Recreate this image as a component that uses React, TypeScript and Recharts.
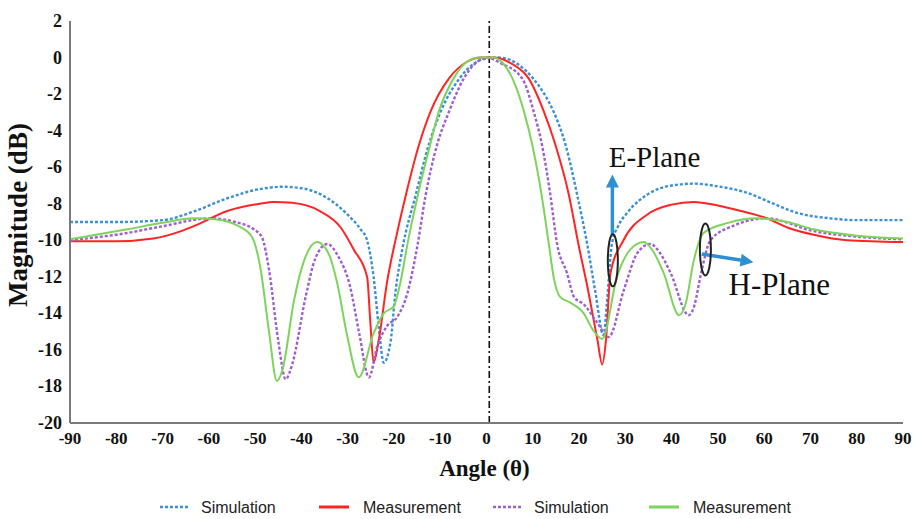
import React from "react";
import { LineChart, Line, XAxis, YAxis, ReferenceLine } from "recharts";

// ---------- data ----------
const xTicks = [-90, -80, -70, -60, -50, -40, -30, -20, -10, 0, 10, 20, 30, 40, 50, 60, 70, 80, 90];
const yTicks = [-20, -18, -16, -14, -12, -10, -8, -6, -4, -2, 0, 2];

// E-plane simulation (blue dotted)
const eSimAngle = [-90, -80, -70, -63, -56, -49, -44, -40, -35, -30, -27.2, -25.8, -24.4, -23.3, -22.2, -20.7, -19.7, -18.2, -15.3, -12.5, -9.9, -6, -2.5, 0, 2.5, 5, 7.5, 10, 12.5, 14.5, 17.1, 19.6, 21.8, 23.5, 25.3, 26, 27.1, 28.5, 30.4, 35.4, 40, 45, 50, 56.3, 62, 67.1, 74.3, 80, 90];
const eSimMag = [-9.0, -9.0, -8.9, -8.4, -7.7, -7.2, -7.07, -7.15, -7.6, -8.6, -9.4, -10.0, -12.0, -14.7, -16.7, -15.5, -12.9, -10.5, -7.52, -4.79, -2.96, -1.2, -0.3, -0.05, 0, -0.12, -0.5, -1.12, -2.0, -2.96, -4.79, -7.52, -10.26, -12.8, -15.2, -13.5, -10.2, -9.2, -8.5, -7.4, -7.0, -6.9, -7.05, -7.4, -8.0, -8.5, -8.8, -8.9, -8.9];

// E-plane measurement (red solid)
const eMeasAngle = [-90, -80, -72, -66, -63, -56, -49, -46, -42, -36, -31.5, -28.7, -25.8, -25.1, -24.4, -23.3, -21.5, -19.5, -17.5, -14.6, -12.1, -8.1, -4.2, -1, 1.5, 5.5, 9.1, 12.4, 14.9, 17.8, 19.9, 22, 24, 25, 25.8, 26.8, 29.6, 34.7, 40, 44.8, 50, 55, 60.6, 65, 70.7, 77.9, 90];
const eMeasMag = [-10.05, -10.05, -9.9, -9.5, -9.2, -8.4, -8.0, -7.9, -7.95, -8.4, -9.3, -10.5, -12.0, -14.5, -16.7, -15.5, -12.3, -9.8, -7.6, -4.79, -2.96, -1.14, -0.23, 0, 0, -0.35, -1.14, -2.96, -4.79, -7.52, -10.26, -12.8, -15.5, -16.8, -15.5, -11.8, -10.0, -8.6, -8.05, -7.9, -8.1, -8.4, -8.8, -9.3, -9.7, -10.0, -10.1];

// H-plane simulation (purple dotted)
const hSimAngle = [-90, -77.6, -70.4, -59.6, -54.6, -50.3, -48.5, -47, -45, -43.4, -42, -39, -37, -34.4, -32, -29.5, -27.5, -25.4, -23.6, -21.5, -19.3, -17.1, -15, -13.2, -10.7, -8.1, -4.9, -2, 0.1, 3, 7.7, 10.2, 12, 13.8, 15.3, 17.4, 18.9, 21, 23.9, 26.4, 29.7, 32.6, 35.4, 37.5, 39.8, 43.7, 45, 46.2, 48.4, 53.4, 60.6, 70.7, 80, 90];
const hSimMag = [-10.0, -9.6, -9.25, -8.8, -8.98, -9.4, -9.85, -11.6, -15.5, -17.6, -16.8, -13.0, -11.0, -10.2, -10.9, -12.5, -15.1, -17.5, -15.8, -14.7, -14.2, -12.9, -10.4, -7.6, -4.79, -2.96, -1.14, -0.23, 0, -0.3, -1.14, -2.96, -4.79, -7.52, -10.26, -11.8, -13.1, -13.5, -14.5, -15.3, -12.7, -10.7, -10.2, -10.7, -11.8, -14.1, -13.5, -12.0, -10.0, -9.2, -8.8, -9.5, -9.8, -9.95];

// H-plane measurement (green solid)
const hMeasAngle = [-90, -77.6, -70.4, -63.2, -58.8, -53, -50.6, -48.8, -47, -45.3, -44, -41.6, -39.4, -36.6, -34, -32.3, -30.2, -27.6, -24.4, -22.2, -20, -18.6, -17, -14.9, -12.2, -10.3, -7.1, -4.2, -1.5, 1.5, 3.5, 5.6, 8.1, 9.9, 11.9, 13.5, 14.5, 15.9, 18, 21, 23, 25, 28.2, 31.1, 34, 36, 38.3, 41.6, 43, 44.8, 46.9, 52, 58.5, 65, 70.7, 80, 90];
const hMeasMag = [-9.95, -9.4, -9.06, -8.8, -8.85, -9.3, -9.85, -11.6, -15.0, -17.7, -17.0, -13.3, -11.1, -10.1, -10.8, -12.3, -15.1, -17.5, -15.1, -14.0, -13.6, -12.3, -10.1, -7.6, -4.79, -2.96, -1.14, -0.23, 0, 0, -0.3, -1.14, -2.96, -4.79, -7.52, -10.26, -12.0, -13.1, -13.4, -14.0, -14.9, -15.4, -12.0, -10.5, -10.1, -10.6, -11.8, -14.1, -13.5, -11.1, -9.6, -9.06, -8.8, -9.0, -9.4, -9.75, -9.9];

const seriesNames = ["Simulation", "Measurement", "Simulation", "Measurement"];
const seriesColors = ["#3b8fd6", "#ff2424", "#9d5fcf", "#7dd35c"];
const seriesDotted = [true, false, true, false];

const zip = (a: number[], m: number[]) => a.map((x, i) => ({ x, y: m[i] }));
const eSimData = zip(eSimAngle, eSimMag);
const eMeasData = zip(eMeasAngle, eMeasMag);
const hSimData = zip(hSimAngle, hSimMag);
const hMeasData = zip(hMeasAngle, hMeasMag);
const allData = [eSimData, eMeasData, hSimData, hMeasData];

// ---------- layout ----------
const W = 913;
const H = 519;
const PLOT = { left: 70, right: 903, top: 21, bottom: 423 };
const xPx = (a: number) => PLOT.left + ((a + 90) / 180) * (PLOT.right - PLOT.left);
const yPx = (v: number) => PLOT.top + ((2 - v) / 22) * (PLOT.bottom - PLOT.top);

const SERIF = "'Liberation Serif', 'Times New Roman', serif";
const SANS = "'Liberation Sans', Arial, sans-serif";
const AXIS_GRAY = "#7a7a7a";
const ARROW_BLUE = "#2f8fd5";

function Arrow({ x1, y1, x2, y2 }: { x1: number; y1: number; x2: number; y2: number }) {
  const dx = x2 - x1;
  const dy = y2 - y1;
  const len = Math.sqrt(dx * dx + dy * dy);
  const ux = dx / len;
  const uy = dy / len;
  const head = 13;
  const half = 6.5;
  const bx = x2 - ux * head;
  const by = y2 - uy * head;
  const pts = `${x2},${y2} ${bx - uy * half},${by + ux * half} ${bx + uy * half},${by - ux * half}`;
  return (
    <g>
      <line x1={x1} y1={y1} x2={bx + ux} y2={by + uy} stroke={ARROW_BLUE} strokeWidth={3.5} />
      <polygon points={pts} fill={ARROW_BLUE} />
    </g>
  );
}

const XTick = (props: any) => {
  const { x, y, payload } = props;
  return (
    <text x={x} y={y + 13} textAnchor="middle" fontFamily={SERIF} fontWeight="bold" fontSize={17} fill="#111">
      {payload.value}
    </text>
  );
};

const YTick = (props: any) => {
  const { x, y, payload } = props;
  return (
    <text x={x} y={y + 6} textAnchor="end" fontFamily={SERIF} fontWeight="bold" fontSize={18} fill="#111">
      {payload.value}
    </text>
  );
};

const legendStarts = [160, 319, 493, 649];

export default function App() {
  return (
    <div style={{ position: "absolute", left: 0, top: 0, width: W, height: H, background: "#fff" }}>
      <LineChart width={W} height={H} margin={{ top: 21, right: 10, bottom: 46, left: 0 }}>
        <XAxis
          dataKey="x"
          type="number"
          domain={[-90, 90]}
          ticks={xTicks}
          interval={0}
          height={50}
          tickLine={false}
          axisLine={{ stroke: AXIS_GRAY, strokeWidth: 2 }}
          tick={<XTick />}
          allowDataOverflow
        />
        <XAxis
          xAxisId="top"
          orientation="top"
          type="number"
          domain={[-90, 90]}
          height={0}
          tick={false}
          tickLine={false}
          axisLine={{ stroke: "#9a9a9a", strokeWidth: 1.5 }}
        />
        <YAxis
          type="number"
          domain={[-20, 2]}
          ticks={yTicks}
          interval={0}
          width={70}
          tickLine={false}
          axisLine={{ stroke: AXIS_GRAY, strokeWidth: 2 }}
          tick={<YTick />}
          allowDataOverflow
        />
        <YAxis
          yAxisId="right"
          orientation="right"
          type="number"
          domain={[-20, 2]}
          width={0}
          tick={false}
          tickLine={false}
          axisLine={{ stroke: "#9a9a9a", strokeWidth: 1.5 }}
        />
        <ReferenceLine x={0.6} stroke="#111" strokeWidth={1.6} strokeDasharray="7 3 2 3" />
        {allData.map((d, i) => (
          <Line
            key={i}
            data={d}
            dataKey="y"
            type="monotone"
            stroke={seriesColors[i]}
            strokeWidth={seriesDotted[i] ? 2.4 : 2}
            strokeDasharray={seriesDotted[i] ? "3 2" : undefined}
            dot={false}
            activeDot={false}
            isAnimationActive={false}
          />
        ))}
      </LineChart>
      <svg width={W} height={H} style={{ position: "absolute", left: 0, top: 0, pointerEvents: "none" }}>
        {/* axis titles */}
        <text
          transform={`translate(27, ${(PLOT.top + PLOT.bottom) / 2 - 7}) rotate(-90)`}
          textAnchor="middle"
          fontFamily={SERIF}
          fontWeight="bold"
          fontSize={27}
          fill="#111"
        >
          Magnitude (dB)
        </text>
        <text x={(PLOT.left + PLOT.right) / 2 - 2} y={476} textAnchor="middle" fontFamily={SERIF} fontWeight="bold" fontSize={23} fill="#111">
          Angle (θ)
        </text>
        {/* annotations */}
        <Arrow x1={xPx(27.2)} y1={yPx(-9.7)} x2={xPx(27.2)} y2={yPx(-6.4)} />
        <Arrow x1={xPx(46.5)} y1={yPx(-10.75)} x2={xPx(57.7)} y2={yPx(-11.2)} />
        <ellipse cx={xPx(27.3)} cy={yPx(-11.1)} rx={5} ry={26} fill="none" stroke="#222" strokeWidth={2} />
        <ellipse cx={xPx(47.3)} cy={yPx(-10.5)} rx={5.5} ry={26} fill="none" stroke="#222" strokeWidth={2} />
        <text x={xPx(26.4)} y={yPx(-5.97)} fontFamily={SERIF} fontSize={29} fill="#111">E-Plane</text>
        <text x={xPx(52.3)} y={yPx(-13.0)} fontFamily={SERIF} fontSize={31} fill="#111">H-Plane</text>
        {/* legend */}
        {seriesNames.map((name, i) => (
          <g key={i}>
            <line
              x1={legendStarts[i]}
              x2={legendStarts[i] + 30}
              y1={507}
              y2={507}
              stroke={seriesColors[i]}
              strokeWidth={seriesDotted[i] ? 2.4 : 3}
              strokeDasharray={seriesDotted[i] ? "3 2" : undefined}
            />
            <text x={legendStarts[i] + (seriesDotted[i] ? 41 : 44)} y={512.5} fontFamily={SANS} fontSize={16} fill="#222">
              {name}
            </text>
          </g>
        ))}
      </svg>
    </div>
  );
}
